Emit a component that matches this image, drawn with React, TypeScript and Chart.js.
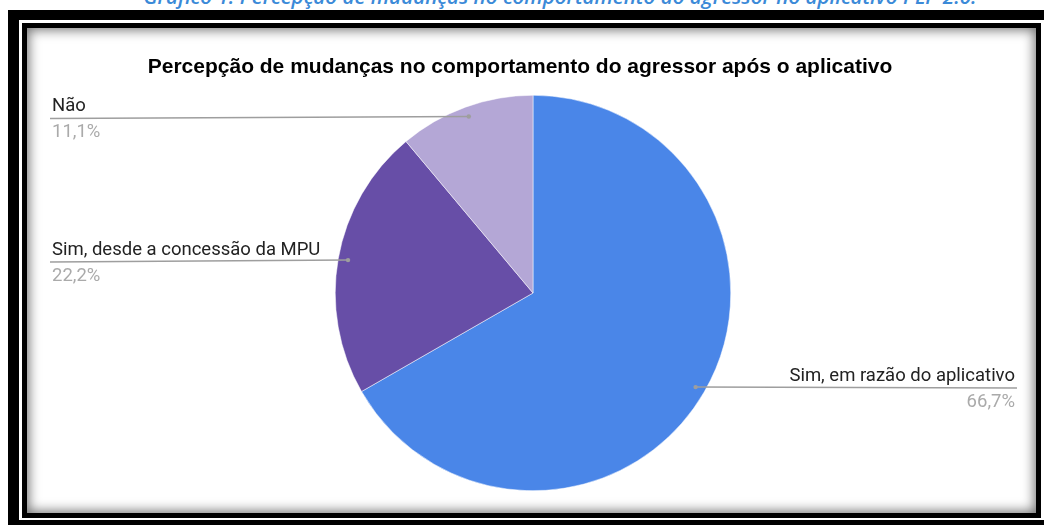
import React, { useEffect, useRef } from "react";
import { Chart, registerables } from "chart.js";

Chart.register(...registerables);

const caption = "Gráfico 1: Percepção de mudanças no comportamento do agressor no aplicativo PLP 2.0.";
const chartTitle = "Percepção de mudanças no comportamento do agressor após o aplicativo";
const categories = ["Sim, em razão do aplicativo", "Sim, desde a concessão da MPU", "Não"];
const percentages = [66.7, 22.2, 11.1];
const sliceColors = ["#4a86e8", "#674ea7", "#b4a7d6"];

const LEFT_EDGE = 50;
const RIGHT_EDGE = 1017;
const TITLE_X = 520;
const TITLE_Y = 67;

const labelPlugin = {
  id: "sideLabels",
  afterDatasetsDraw(chart: any) {
    const ctx = chart.ctx;
    const meta = chart.getDatasetMeta(0);
    const values = chart.data.datasets[0].data as number[];
    const labels = chart.data.labels as string[];
    ctx.save();
    ctx.font = "bold 21px 'Liberation Sans', Arial, sans-serif";
    ctx.fillStyle = "#000000";
    ctx.textAlign = "center";
    ctx.textBaseline = "middle";
    ctx.fillText(chartTitle, TITLE_X, TITLE_Y);
    meta.data.forEach((arc: any, i: number) => {
      const p = arc.getProps(["x", "y", "startAngle", "endAngle", "outerRadius"], true);
      const mid = (p.startAngle + p.endAngle) / 2;
      const dx = p.x + Math.cos(mid) * p.outerRadius * 0.95;
      const dy = p.y + Math.sin(mid) * p.outerRadius * 0.95;
      const right = Math.cos(mid) > 0;
      const endX = right ? RIGHT_EDGE : LEFT_EDGE;
      const lineY = dy + (right ? 1 : 2);
      ctx.strokeStyle = "#9e9e9e";
      ctx.lineWidth = 1.5;
      ctx.beginPath();
      ctx.moveTo(dx, dy);
      ctx.lineTo(endX, lineY);
      ctx.stroke();
      ctx.fillStyle = "#9e9e9e";
      ctx.beginPath();
      ctx.arc(dx, dy, 2.2, 0, Math.PI * 2);
      ctx.fill();
      ctx.font = "18.5px Roboto, 'Liberation Sans', Arial, sans-serif";
      ctx.textAlign = right ? "right" : "left";
      ctx.textBaseline = "alphabetic";
      const tx = right ? RIGHT_EDGE - 2 : LEFT_EDGE + 2;
      ctx.fillStyle = "#222222";
      ctx.fillText(labels[i], tx, lineY - 7);
      ctx.fillStyle = "#aaaaaa";
      ctx.fillText(values[i].toFixed(1).replace(".", ",") + "%", tx, lineY + 19);
    });
    ctx.restore();
  },
};

export default function App() {
  const canvasRef = useRef<HTMLCanvasElement | null>(null);

  useEffect(() => {
    if (!canvasRef.current) return;
    const chart = new Chart(canvasRef.current, {
      type: "pie",
      data: {
        labels: categories,
        datasets: [
          {
            data: percentages,
            backgroundColor: sliceColors,
            borderColor: "#ffffff",
            borderWidth: 0.5,
          },
        ],
      },
      options: {
        animation: false,
        responsive: false,
        devicePixelRatio: 1,
        layout: { padding: { top: 95, bottom: 34, left: 22, right: 0 } },
        plugins: {
          legend: { display: false },
          tooltip: { enabled: false },
          title: { display: false },
        },
      },
      plugins: [labelPlugin],
    });
    return () => chart.destroy();
  }, []);

  return (
    <div
      style={{
        position: "fixed",
        left: 0,
        top: 0,
        width: 1044,
        height: 525,
        overflow: "hidden",
        background: "#ffffff",
      }}
    >
      <div
        style={{
          position: "absolute",
          left: 0,
          top: -15,
          width: 1044,
          textAlign: "center",
          fontFamily: "'Open Sans', sans-serif",
          fontStyle: "italic",
          fontWeight: 600,
          fontSize: 20.6,
          lineHeight: "22px",
          color: "#3b8ad8",
          whiteSpace: "nowrap",
          paddingLeft: 76,
          boxSizing: "border-box",
        }}
      >
        {caption}
      </div>
      <div style={{ position: "absolute", left: 8, top: 10, width: 1050, height: 520, background: "#000" }} />
      <div style={{ position: "absolute", left: 19, top: 20, width: 1030, height: 500, background: "#fff" }} />
      <div
        style={{
          position: "absolute",
          left: 22,
          top: 23,
          width: 1019,
          height: 495,
          boxSizing: "border-box",
          border: "5px solid #000",
          background: "#fff",
          boxShadow: "inset 0 0 12px 2px rgba(0,0,0,0.55)",
        }}
      />
      <canvas
        ref={canvasRef}
        width={1044}
        height={525}
        style={{ position: "absolute", left: 0, top: 0, width: 1044, height: 525 }}
      />
    </div>
  );
}
